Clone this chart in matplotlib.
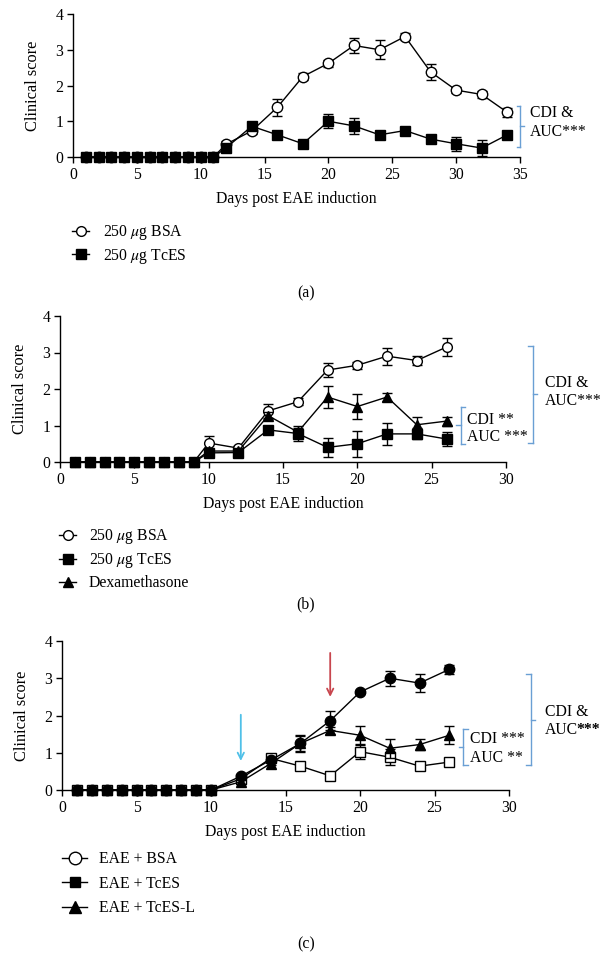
import matplotlib
matplotlib.use("Agg")
import matplotlib.pyplot as plt
from matplotlib.lines import Line2D
import numpy as np

plt.rcParams['font.family'] = ['Liberation Serif', 'DejaVu Serif']
plt.rcParams['mathtext.fontset'] = 'stix'
FS = 11.3
plt.rcParams['font.size'] = FS

# ---------------- Panel (a) data ----------------
days_a = [1, 2, 3, 4, 5, 6, 7, 8, 9, 10, 11, 12, 14, 16, 18, 20, 22, 24, 26, 28, 30, 32, 34]
bsa_a = [0, 0, 0, 0, 0, 0, 0, 0, 0, 0, 0, 0.36, 0.73, 1.39, 2.25, 2.62, 3.12, 3.0, 3.37, 2.38, 1.87, 1.75, 1.25]
bsa_a_err = [0, 0, 0, 0, 0, 0, 0, 0, 0, 0, 0, 0.1, 0.1, 0.23, 0.1, 0.1, 0.22, 0.27, 0.1, 0.22, 0.08, 0.1, 0.12]
tces_a = [0, 0, 0, 0, 0, 0, 0, 0, 0, 0, 0, 0.26, 0.86, 0.62, 0.37, 1.0, 0.87, 0.62, 0.74, 0.5, 0.37, 0.25, 0.62]
tces_a_err = [0, 0, 0, 0, 0, 0, 0, 0, 0, 0, 0, 0.05, 0.05, 0.05, 0.05, 0.2, 0.22, 0.05, 0.05, 0.05, 0.2, 0.22, 0.05]

# ---------------- Panel (b) data ----------------
days_b = [1, 2, 3, 4, 5, 6, 7, 8, 9, 10, 12, 14, 16, 18, 20, 22, 24, 26]
bsa_b = [0, 0, 0, 0, 0, 0, 0, 0, 0, 0.52, 0.38, 1.4, 1.65, 2.52, 2.65, 2.9, 2.78, 3.15]
bsa_b_err = [0, 0, 0, 0, 0, 0, 0, 0, 0, 0.2, 0.05, 0.2, 0.1, 0.2, 0.1, 0.23, 0.12, 0.25]
tces_b = [0, 0, 0, 0, 0, 0, 0, 0, 0, 0.25, 0.26, 0.88, 0.78, 0.4, 0.5, 0.77, 0.77, 0.63]
tces_b_err = [0, 0, 0, 0, 0, 0, 0, 0, 0, 0.05, 0.05, 0.05, 0.2, 0.25, 0.36, 0.31, 0.15, 0.2]
dexa_b = [0, 0, 0, 0, 0, 0, 0, 0, 0, 0.3, 0.3, 1.27, 0.82, 1.78, 1.52, 1.78, 1.02, 1.12]
dexa_b_err = [0, 0, 0, 0, 0, 0, 0, 0, 0, 0.05, 0.05, 0.1, 0.12, 0.3, 0.33, 0.1, 0.2, 0.12]

# ---------------- Panel (c) data ----------------
days_c = [1, 2, 3, 4, 5, 6, 7, 8, 9, 10, 12, 14, 16, 18, 20, 22, 24, 26]
bsa_c = [0, 0, 0, 0, 0, 0, 0, 0, 0, 0, 0.37, 0.8, 1.25, 1.86, 2.63, 3.0, 2.87, 3.24]
bsa_c_err = [0, 0, 0, 0, 0, 0, 0, 0, 0, 0, 0.05, 0.05, 0.22, 0.26, 0.05, 0.2, 0.24, 0.12]
tces_c = [0, 0, 0, 0, 0, 0, 0, 0, 0, 0, 0.3, 0.85, 0.64, 0.38, 1.03, 0.88, 0.64, 0.75]
tces_c_err = [0, 0, 0, 0, 0, 0, 0, 0, 0, 0, 0.05, 0.05, 0.05, 0.05, 0.2, 0.22, 0.05, 0.05]
tcesl_c = [0, 0, 0, 0, 0, 0, 0, 0, 0, 0, 0.22, 0.71, 1.25, 1.6, 1.47, 1.12, 1.22, 1.47]
tcesl_c_err = [0, 0, 0, 0, 0, 0, 0, 0, 0, 0, 0.05, 0.05, 0.2, 0.1, 0.25, 0.25, 0.15, 0.24]

labels_a = ["250 $\\mu$g BSA", "250 $\\mu$g TcES"]
labels_b = ["250 $\\mu$g BSA", "250 $\\mu$g TcES", "Dexamethasone"]
labels_c = ["EAE + BSA", "EAE + TcES", "EAE + TcES-L"]

BR = "#6a9fd4"
W, H = 613, 974
fig = plt.figure(figsize=(W / 100, H / 100), dpi=100)


def axes_px(l, r, t, b):
    return fig.add_axes([l / W, 1 - b / H, (r - l) / W, (b - t) / H])


def style(ax, xmax, xticks):
    ax.set_xlim(0, xmax)
    ax.set_ylim(0, 4)
    ax.set_xticks(xticks)
    ax.set_yticks([0, 1, 2, 3, 4])
    for s in ['top', 'right']:
        ax.spines[s].set_visible(False)
    for s in ['left', 'bottom']:
        ax.spines[s].set_linewidth(1.0)
    ax.tick_params(direction='out', length=4, width=1.0, labelsize=FS, pad=3)
    ax.set_xlabel("Days post EAE induction", fontsize=FS, labelpad=6)
    ax.set_ylabel("Clinical score", fontsize=FS + 0.5, labelpad=10)


def series(ax, x, y, e, marker, mfc, ms, z):
    ax.errorbar(x, y, yerr=e, color='black', lw=1.0, marker=marker, mfc=mfc, mec='black',
                ms=ms, mew=1.0, capsize=3.5, elinewidth=1.0, capthick=1.0, clip_on=False, zorder=z)


def bracket(ax, x, y0, y1, ends, nub, ym=None):
    if ym is None:
        ym = (y0 + y1) / 2
    kw = dict(color=BR, lw=1.0, clip_on=False)
    ax.plot([x, x], [y0, y1], **kw)
    ax.plot([x, x + ends], [y0, y0], **kw)
    ax.plot([x, x + ends], [y1, y1], **kw)
    ax.plot([x, x + nub], [ym, ym], **kw)


# ---- (a) ----
ax1 = axes_px(73, 520, 14, 157)
style(ax1, 35, [0, 5, 10, 15, 20, 25, 30, 35])
series(ax1, days_a, bsa_a, bsa_a_err, 'o', 'white', 7.5, 3)
series(ax1, days_a, tces_a, tces_a_err, 's', 'black', 7, 4)
bracket(ax1, 35.0, 0.28, 1.43, -0.25, 0.3)
ax1.text(35.8, 1.22, "CDI &", fontsize=FS, va='center', ha='left', clip_on=False)
ax1.text(35.8, 0.70, "AUC***", fontsize=FS, va='center', ha='left', clip_on=False)
h_a = [Line2D([], [], color='k', lw=1, marker='o', mfc='white', mec='k', ms=7),
       Line2D([], [], color='k', lw=1, marker='s', mfc='black', mec='k', ms=6.5)]
fig.legend(h_a, labels_a, loc='upper left', bbox_to_anchor=(72 / W, 1 - 223 / H), frameon=False,
           handlelength=1.1, handletextpad=0.9, labelspacing=0.3, borderpad=0, borderaxespad=0, fontsize=FS)
fig.text(306 / W, 1 - 293 / H, "(a)", ha='center', va='center', fontsize=FS)

# ---- (b) ----
ax2 = axes_px(60, 506, 316, 462)
style(ax2, 30, [0, 5, 10, 15, 20, 25, 30])
series(ax2, days_b, bsa_b, bsa_b_err, 'o', 'white', 7, 3)
series(ax2, days_b, dexa_b, dexa_b_err, '^', 'black', 7, 4)
series(ax2, days_b, tces_b, tces_b_err, 's', 'black', 6.5, 5)
bracket(ax2, 31.8, 0.52, 3.19, -0.3, 0.3, 1.87)
ax2.text(32.6, 2.17, "CDI &", fontsize=FS, va='center', ha='left', clip_on=False)
ax2.text(32.6, 1.68, "AUC***", fontsize=FS, va='center', ha='left', clip_on=False)
bracket(ax2, 26.95, 0.5, 1.51, 0.3, -0.3)
ax2.text(27.4, 1.16, "CDI **", fontsize=FS, va='center', ha='left', clip_on=False)
ax2.text(27.4, 0.69, "AUC ***", fontsize=FS, va='center', ha='left', clip_on=False)
h_b = [Line2D([], [], color='k', lw=1, marker='o', mfc='white', mec='k', ms=7),
       Line2D([], [], color='k', lw=1, marker='s', mfc='black', mec='k', ms=6.5),
       Line2D([], [], color='k', lw=1, marker='^', mfc='black', mec='k', ms=7)]
fig.legend(h_b, labels_b, loc='upper left', bbox_to_anchor=(59 / W, 1 - 527 / H), frameon=False,
           handlelength=1.1, handletextpad=0.8, labelspacing=0.33, borderpad=0, borderaxespad=0, fontsize=FS)
fig.text(306 / W, 1 - 604 / H, "(b)", ha='center', va='center', fontsize=FS)

# ---- (c) ----
ax3 = axes_px(62, 509, 641, 790)
style(ax3, 30, [0, 5, 10, 15, 20, 25, 30])
series(ax3, days_c, tces_c, tces_c_err, 's', 'white', 6.5, 3)
series(ax3, days_c, tcesl_c, tcesl_c_err, '^', 'black', 7, 4)
series(ax3, days_c, bsa_c, bsa_c_err, 'o', 'black', 7.5, 5)
ax3.annotate('', xy=(12, 0.78), xytext=(12, 2.02),
             arrowprops=dict(arrowstyle='->', color='#4fc0e8', lw=1.3, shrinkA=0, shrinkB=0))
ax3.annotate('', xy=(18, 2.5), xytext=(18, 3.68),
             arrowprops=dict(arrowstyle='->', color='#c8464e', lw=1.3, shrinkA=0, shrinkB=0))
bracket(ax3, 31.46, 0.67, 3.11, -0.3, 0.3, 1.89)
ax3.text(32.4, 2.09, "CDI &", fontsize=FS, va='center', ha='left', clip_on=False)
ax3.text(32.4, 1.62, "AUC", fontsize=FS, va='center', ha='left', clip_on=False)
ax3.text(34.5, 1.62, "***", fontsize=FS, va='center', ha='left', clip_on=False, fontweight='bold')
bracket(ax3, 26.93, 0.67, 1.64, 0.3, -0.3)
ax3.text(27.4, 1.37, "CDI ***", fontsize=FS, va='center', ha='left', clip_on=False)
ax3.text(27.4, 0.86, "AUC **", fontsize=FS, va='center', ha='left', clip_on=False)
h_c = [Line2D([], [], color='k', lw=1, marker='o', mfc='white', mec='k', ms=9),
       Line2D([], [], color='k', lw=1, marker='s', mfc='black', mec='k', ms=7.5),
       Line2D([], [], color='k', lw=1, marker='^', mfc='black', mec='k', ms=8)]
fig.legend(h_c, labels_c, loc='upper left', bbox_to_anchor=(62 / W, 1 - 851 / H), frameon=False,
           handlelength=1.6, handletextpad=0.75, labelspacing=0.55, borderpad=0, borderaxespad=0, fontsize=FS)
fig.text(306 / W, 1 - 944 / H, "(c)", ha='center', va='center', fontsize=FS)

fig.savefig("out.png", dpi=100)
